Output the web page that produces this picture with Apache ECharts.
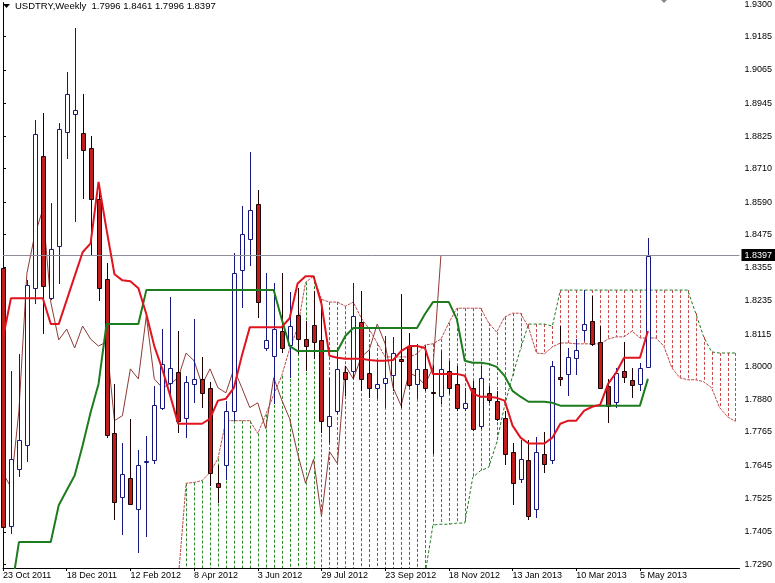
<!DOCTYPE html>
<html>
<head>
<meta charset="utf-8">
<script src="https://cdn.jsdelivr.net/npm/echarts@6/dist/echarts.min.js"></script>
<style>html,body{margin:0;padding:0;background:#fff}#c{width:775px;height:583px}</style>
</head>
<body>
<div id="c"></div>
<script>
// ---- data (weekly bars, index 0 = 23 Oct 2011) ----
const dateIdx = [0, 8, 16, 24, 32, 40, 48, 56, 64, 72, 80];
const dateLabels = ['23 Oct 2011','18 Dec 2011','12 Feb 2012','8 Apr 2012','3 Jun 2012','29 Jul 2012','23 Sep 2012','18 Nov 2012','13 Jan 2013','10 Mar 2013','5 May 2013'];
const yTicks = [1.9300,1.9185,1.9065,1.8945,1.8825,1.8710,1.8590,1.8475,1.8355,1.8235,1.8115,1.8000,1.7880,1.7765,1.7645,1.7525,1.7405,1.7290];
const lastPrice = 1.8397;

const opens = [1.8352,1.7426,1.7633,1.7719,1.8281,1.8756,1.8245,1.8434,1.8842,1.8907,1.8839,1.8785,1.8600,1.8313,1.7759,1.7530,1.7598,1.7487,1.7655,1.7662,
1.7852,1.7941,1.7980,1.7816,1.7937,1.7955,1.7923,1.7580,1.7644,1.7841,1.8345,1.8456,1.8584,1.8066,1.8038,1.8127,1.8077,1.8184,1.8098,1.8148,
1.8095,1.7787,1.7841,1.7980,1.7984,1.8159,1.7977,1.7923,1.7941,1.7970,1.8027,1.8073,1.7937,1.7991,1.7909,1.7895,1.7984,1.7937,1.7852,1.7923,
1.7787,1.7905,1.7877,1.7816,1.7694,1.7594,1.7662,1.7487,1.7684,1.7662,1.7963,1.7973,1.8030,1.8131,1.8163,1.8088,1.7930,1.7873,1.7984,1.7952,
1.7937,1.7996];
const closes = [1.7422,1.7666,1.7734,1.8291,1.8835,1.8288,1.8420,1.8853,1.8978,1.8921,1.8778,1.8600,1.8281,1.7755,1.7512,1.7612,1.7505,1.7644,1.7659,1.7862,
1.8009,1.7995,1.7802,1.7945,1.7955,1.7905,1.7616,1.7566,1.7841,1.8334,1.8474,1.8563,1.8231,1.8095,1.8134,1.8066,1.8145,1.8098,1.8073,1.8088,
1.7805,1.7823,1.7991,1.7955,1.8181,1.7955,1.7923,1.7937,1.7959,1.8048,1.8020,1.7934,1.7991,1.7923,1.7905,1.7991,1.7923,1.7852,1.7869,1.7776,
1.7959,1.7880,1.7812,1.7687,1.7580,1.7666,1.7462,1.7694,1.7651,1.8002,1.7955,1.8034,1.8059,1.8152,1.8081,1.7923,1.7859,1.7977,1.7963,1.7934,
1.7995,1.8397];
const highs = [1.8388,1.7984,1.8045,1.8309,1.8885,1.8910,1.8588,1.8874,1.9057,1.9214,1.8978,1.8828,1.8645,1.8370,1.7937,1.7726,1.7812,1.7698,1.7751,1.7930,
1.8134,1.8249,1.8127,1.7966,1.8170,1.8034,1.7945,1.7644,1.7877,1.8406,1.8577,1.8771,1.8635,1.8334,1.8298,1.8334,1.8266,1.8281,1.8163,1.8270,
1.8234,1.7959,1.8066,1.8002,1.8298,1.8270,1.8055,1.8020,1.8109,1.8106,1.8259,1.8120,1.8081,1.8073,1.8002,1.8055,1.8020,1.8002,1.7923,1.7948,
1.8002,1.7930,1.7912,1.7841,1.7726,1.7737,1.7737,1.7748,1.7766,1.8020,1.8145,1.8066,1.8098,1.8273,1.8252,1.8145,1.7955,1.7995,1.8088,1.7995,
1.8013,1.8461];
const lows = [1.7401,1.7398,1.7601,1.7655,1.8224,1.8116,1.8238,1.8295,1.8746,1.8517,1.8603,1.8395,1.8234,1.7744,1.7447,1.7394,1.7501,1.7329,1.7387,1.7648,
1.7845,1.7895,1.7759,1.7741,1.7869,1.7852,1.7569,1.7508,1.7591,1.7805,1.8209,1.8359,1.8174,1.8055,1.7866,1.8048,1.7959,1.8045,1.7984,1.8027,
1.7762,1.7726,1.7830,1.7895,1.7955,1.7912,1.7887,1.7884,1.7852,1.7912,1.7852,1.7927,1.7884,1.7912,1.7687,1.7866,1.7902,1.7841,1.7841,1.7769,
1.7776,1.7869,1.7805,1.7644,1.7501,1.7580,1.7447,1.7455,1.7616,1.7648,1.7930,1.7895,1.7970,1.8091,1.8073,1.7920,1.7795,1.7852,1.7941,1.7887,
1.7912,1.7996];

// Tenkan-sen (bars 0..81)
const tenkan = [1.8102,1.8245,1.8245,1.8245,1.8245,1.8245,1.8152,1.8152,1.8238,1.8324,1.8410,1.8442,1.8663,1.8492,1.8331,1.8309,1.8306,1.8281,1.8188,1.8073,
1.7991,1.7895,1.7794,1.7794,1.7794,1.7794,1.7812,1.7877,1.7884,1.7923,1.8038,1.8141,1.8141,1.8141,1.8141,1.8141,1.8173,1.8298,1.8324,1.8324,
1.8224,1.8038,1.8031,1.8027,1.8027,1.8027,1.8023,1.8020,1.8020,1.8023,1.8055,1.8073,1.8073,1.8066,1.7973,1.7973,1.7973,1.7973,1.7966,1.7902,
1.7891,1.7891,1.7887,1.7877,1.7787,1.7744,1.7723,1.7723,1.7723,1.7744,1.7794,1.7805,1.7805,1.7841,1.7855,1.7862,1.7937,1.7977,1.8031,1.8031,
1.8031,1.8127];
// Kijun-sen (bars 0..81)
const kijun = [1.7161,1.7183,1.7369,1.7369,1.7369,1.7369,1.7369,1.7501,1.7555,1.7608,1.7716,1.7834,1.7937,1.8152,1.8152,1.8152,1.8152,1.8152,1.8274,1.8274,
1.8274,1.8274,1.8274,1.8274,1.8274,1.8274,1.8274,1.8274,1.8274,1.8274,1.8274,1.8274,1.8274,1.8274,1.8274,1.8170,1.8073,1.8055,1.8055,1.8055,
1.8055,1.8055,1.8055,1.8109,1.8138,1.8138,1.8138,1.8138,1.8138,1.8138,1.8138,1.8138,1.8138,1.8188,1.8231,1.8231,1.8231,1.8170,1.8020,1.8013,
1.8013,1.8009,1.7998,1.7966,1.7912,1.7891,1.7873,1.7873,1.7873,1.7869,1.7859,1.7859,1.7859,1.7859,1.7859,1.7859,1.7859,1.7859,1.7859,1.7859,
1.7859,1.7955];
// Chikou span (bars 0..55)
const chikou = [1.7616,1.7566,1.7841,1.8334,1.8474,1.8563,1.8231,1.8095,1.8134,1.8066,1.8145,1.8098,1.8073,1.8088,1.7805,1.7823,1.7991,1.7955,1.8181,1.7955,
1.7923,1.7937,1.7959,1.8048,1.8020,1.7934,1.7991,1.7923,1.7905,1.7991,1.7923,1.7852,1.7869,1.7776,1.7959,1.7880,1.7812,1.7687,1.7580,1.7666,
1.7462,1.7694,1.7651,1.8002,1.7955,1.8034,1.8059,1.8152,1.8081,1.7923,1.7859,1.7977,1.7963,1.7934,1.7995,1.8397];
// Senkou spans (bars 22..92)
const cloudStart = 22;
const spanA = [1.7233,1.7580,1.7583,1.7590,1.7619,1.7669,1.7805,1.7805,1.7805,1.7805,1.7759,1.7827,1.7898,1.7966,1.8063,1.8138,1.8302,1.8324,
1.8241,1.8231,1.8231,1.8216,1.8231,1.8173,1.8134,1.8084,1.8034,1.8034,1.8034,1.8034,1.8045,1.8077,1.8081,1.8098,1.8156,1.8209,1.8209,1.8209,
1.8209,1.8156,1.8123,1.8177,1.8191,1.8191,1.8141,1.8048,1.8045,1.8070,1.8084,1.8084,1.8081,1.8081,1.8081,1.8081,1.8098,1.8106,1.8106,1.8127,
1.8102,1.8102,1.8102,1.8073,1.7995,1.7959,1.7952,1.7952,1.7945,1.7923,1.7852,1.7819,1.7802];
const spanB = [1.7150,1.7150,1.7150,1.7150,1.7150,1.7150,1.7150,1.7150,1.7150,1.7150,1.7150,1.7150,1.7150,1.7150,1.7150,1.7150,1.7150,1.7150,
1.7150,1.7150,1.7150,1.7150,1.7150,1.7150,1.7150,1.7150,1.7150,1.7150,1.7150,1.7150,1.7150,1.7251,1.7430,1.7433,1.7433,1.7437,1.7437,1.7601,
1.7626,1.7637,1.7726,1.7859,1.7966,1.8063,1.8152,1.8152,1.8152,1.8145,1.8274,1.8274,1.8274,1.8274,1.8274,1.8274,1.8274,1.8274,1.8274,1.8274,
1.8274,1.8274,1.8274,1.8274,1.8274,1.8274,1.8274,1.8191,1.8106,1.8052,1.8048,1.8048,1.8048];

// ---- chart ----
const FONT = '"Liberation Sans", Arial, sans-serif';
const candleData = opens.map((o, i) => [i, o, closes[i], lows[i], highs[i]]);
const cloudData = spanA.map((a, k) => [cloudStart + k, a, spanB[k]]);
const series2 = (arr, start) => arr.map((v, k) => [start + k, v]);

const chart = echarts.init(document.getElementById('c'), null, {renderer: 'canvas'});
chart.setOption({
  animation: false,
  backgroundColor: '#fff',
  title: {
    text: 'USDTRY,Weekly  1.7996 1.8461 1.7996 1.8397',
    left: 15, top: 1, padding: 0,
    textStyle: {fontSize: 9.5, fontWeight: 'normal', fontFamily: FONT, color: '#000'}
  },
  graphic: [
    {type: 'polygon', shape: {points: [[3, 4], [10, 4], [6.5, 8]]}, style: {fill: '#000'}},
    {type: 'polygon', shape: {points: [[661, 0], [667, 0], [664, 3]]}, style: {fill: '#8a8a8a'}}
  ],
  grid: {left: 0, top: 0, width: 740, height: 568},
  xAxis: {
    type: 'value', min: 0, max: 92.5,
    axisLine: {show: true, onZero: false, lineStyle: {color: '#000', width: 1}},
    axisTick: {show: true, customValues: dateIdx, length: 3, lineStyle: {color: '#000'}},
    axisLabel: {
      customValues: dateIdx, align: 'left', margin: 3,
      fontSize: 9, fontFamily: FONT, color: '#000',
      formatter: v => dateLabels[dateIdx.indexOf(Math.round(v))] || ''
    },
    splitLine: {show: false}
  },
  yAxis: {
    type: 'value', position: 'right', min: 1.72757, max: 1.93072,
    axisLine: {show: true, lineStyle: {color: '#000', width: 1}},
    axisTick: {show: true, customValues: yTicks, length: 3, lineStyle: {color: '#000'}},
    axisLabel: {
      customValues: yTicks, margin: 5,
      fontSize: 9, fontFamily: FONT, color: '#000',
      formatter: v => v.toFixed(4)
    },
    splitLine: {show: false}
  },
  series: [
    {
      name: 'cloud', type: 'custom', z: 1, data: cloudData,
      renderItem: function (params, api) {
        const i = api.value(0), a = api.value(1), b = api.value(2);
        const pa = api.coord([i, a]), pb = api.coord([i, b]);
        const cs = params.coordSys;
        const y1 = Math.max(Math.min(pa[1], pb[1]), cs.y);
        const y2 = Math.min(Math.max(pa[1], pb[1]), cs.y + cs.height);
        if (y2 <= y1) return null;
        const x = Math.round(pa[0]) + 0.5;
        return {type: 'line', shape: {x1: x, y1: y1, x2: x, y2: y2},
          style: {stroke: a >= b ? '#2a8a2a' : '#c84a4a', lineWidth: 1, lineDash: [3, 2]}};
      }
    },
    {name: 'spanA', type: 'line', z: 2, data: series2(spanA, cloudStart), symbol: 'none',
      lineStyle: {color: '#c04848', width: 1, type: [3, 1]}},
    {name: 'spanB', type: 'line', z: 2, data: series2(spanB, cloudStart), symbol: 'none',
      lineStyle: {color: '#1f7a1f', width: 1, type: [3, 2]}},
    {name: 'chikou', type: 'line', z: 3, data: series2(chikou, 0), symbol: 'none',
      lineStyle: {color: '#8e3b36', width: 1}},
    {
      name: 'candles', type: 'custom', z: 4, data: candleData,
      renderItem: function (params, api) {
        const i = api.value(0), o = api.value(1), c = api.value(2), l = api.value(3), h = api.value(4);
        const po = api.coord([i, o]), pc = api.coord([i, c]);
        const pl = api.coord([i, l]), ph = api.coord([i, h]);
        const x = Math.round(po[0]);
        const bull = c >= o;
        const top = Math.round(Math.min(po[1], pc[1]));
        const bot = Math.round(Math.max(po[1], pc[1]));
        const col = bull ? '#161680' : '#1a0000';
        return {type: 'group', children: [
          {type: 'line', shape: {x1: x + 0.5, y1: Math.round(ph[1]), x2: x + 0.5, y2: Math.round(pl[1])},
            style: {stroke: col, lineWidth: 1}},
          {type: 'rect', shape: {x: x - 1.5, y: top + 0.5, width: 4, height: Math.max(bot - top, 1)},
            style: {fill: bull ? '#ffffff' : '#c21d1d', stroke: col, lineWidth: 1}}
        ]};
      }
    },
    {name: 'kijun', type: 'line', z: 5, data: series2(kijun, 0), symbol: 'none',
      lineStyle: {color: '#1d7c1d', width: 2}},
    {name: 'tenkan', type: 'line', z: 6, data: series2(tenkan, 0), symbol: 'none',
      lineStyle: {color: '#e0141e', width: 2},
      markLine: {
        silent: true, symbol: 'none', animation: false,
        lineStyle: {color: '#8d8d9a', width: 1, type: 'solid'},
        label: {show: true, position: 'end', distance: 2, formatter: () => lastPrice.toFixed(4),
          backgroundColor: '#000', color: '#fff', padding: [2, 3, 1, 3], fontSize: 9, fontFamily: FONT},
        data: [{yAxis: lastPrice}]
      }
    }
  ]
});
</script>
</body>
</html>
